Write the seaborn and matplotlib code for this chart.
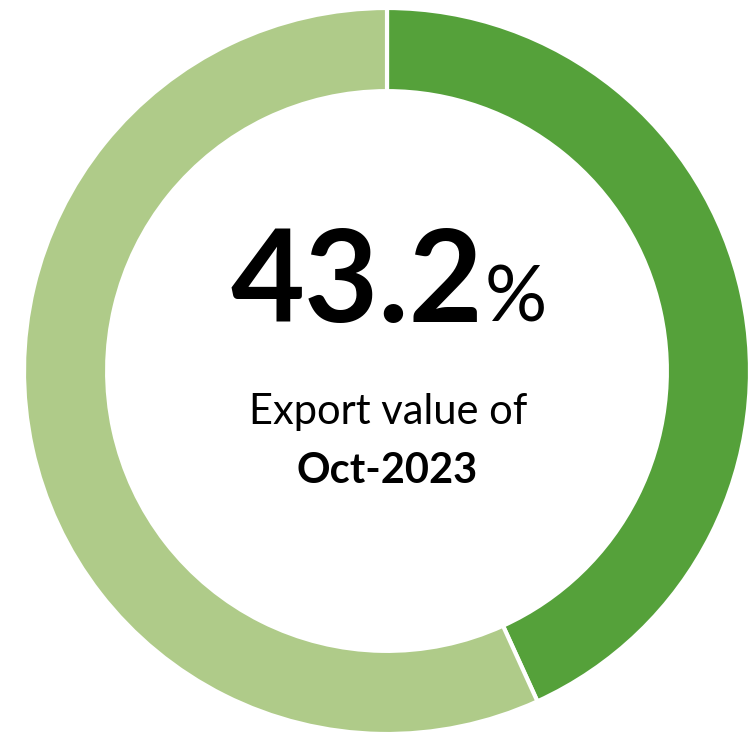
import matplotlib
matplotlib.use("Agg")
import matplotlib.pyplot as plt
import seaborn as sns

# share of export value
labels = ["Oct-2023", "Rest"]
shares = [43.2, 56.8]
colors = ["#55A13A", "#AFCB89"]
big_text = "43.2"
sub_text = "Export value of"
month_text = "Oct-2023"

sns.set_theme(style="white")
plt.rcParams['font.family'] = ['Lato', 'DejaVu Sans']

fig = plt.figure(figsize=(7.48, 7.35), dpi=100)
ax = fig.add_axes([0, 0, 1, 1])

ax.pie(shares, colors=colors, startangle=90, counterclock=False, radius=1,
       wedgeprops=dict(width=0.229, edgecolor="white", linewidth=3))

# pixel -> data: centre at (387, 371) px, radius 363 px
ax.set_xlim(-387 / 363, (748 - 387) / 363)
ax.set_ylim(-(735 - 371) / 363, 371 / 363)
ax.set_aspect("auto")
ax.axis("off")

ax.text(0.264, 0.135, big_text, ha="right", va="baseline",
        fontsize=92, fontweight="bold", color="black")
ax.text(0.27, 0.135, "%", ha="left", va="baseline",
        fontsize=56, color="black")
ax.text(0.003, -0.146, sub_text, ha="center", va="baseline",
        fontsize=30, color="black")
ax.text(0.0, -0.309, month_text, ha="center", va="baseline",
        fontsize=30, fontweight="bold", color="black")

fig.savefig("out.png", dpi=100, facecolor="white")
